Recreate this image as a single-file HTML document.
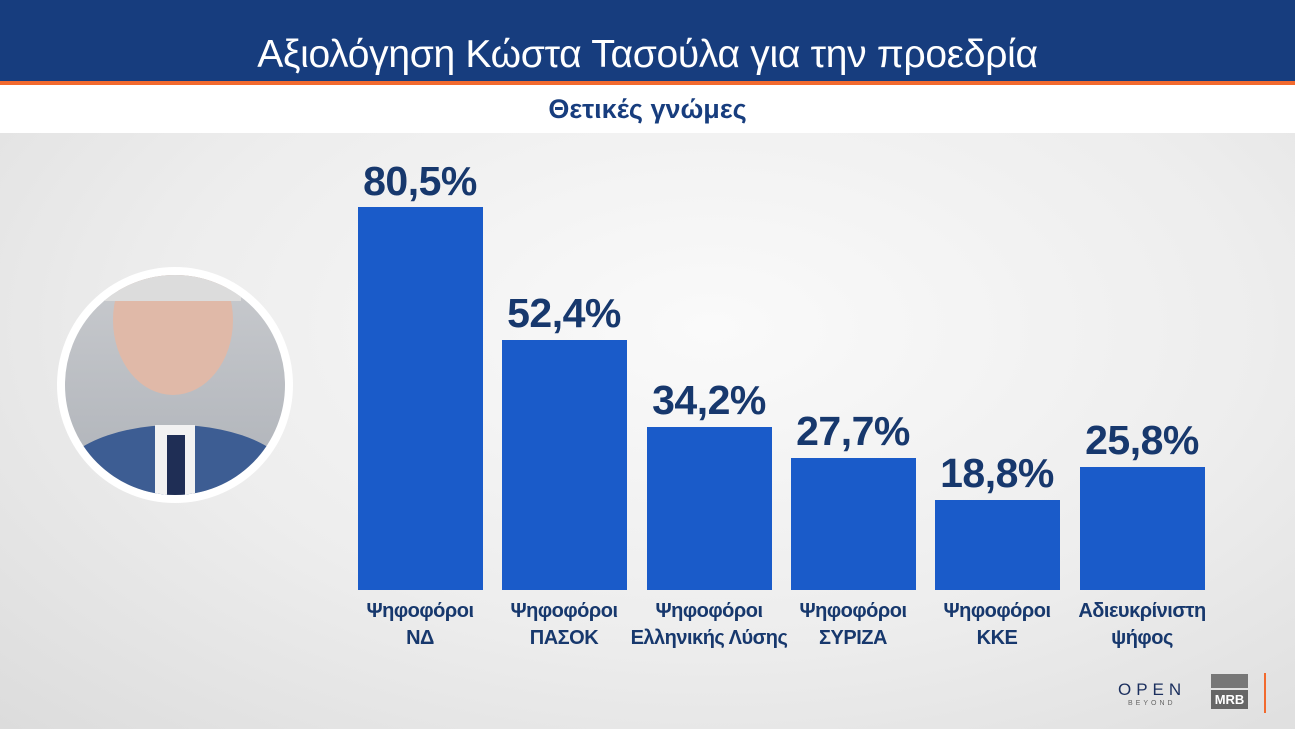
<!DOCTYPE html>
<html><head><meta charset="utf-8"><style>
body{margin:0;width:1295px;height:729px;overflow:hidden;font-family:"Liberation Sans","DejaVu Sans",sans-serif;position:relative;background:radial-gradient(ellipse at 55% 45%,#fafafa 0%,#ededed 55%,#dcdcdc 100%)}
.hdr{position:absolute;left:0;top:0;width:1295px;height:81px;background:#173d7e}
.hdr div{position:absolute;left:0;right:0;top:33px;text-align:center;color:#fff;font-size:39px;letter-spacing:-0.3px}
.or{position:absolute;left:0;top:81px;width:1295px;height:4px;background:#f26a2e}
.wb{position:absolute;left:0;top:85px;width:1295px;height:48px;background:#fff;text-align:center;color:#173d7e;font-weight:bold;font-size:27px;line-height:48px}
.bar{position:absolute;width:125px;background:#1a5bc9;bottom:139px}
.v{position:absolute;width:160px;text-align:center;color:#17386d;font-weight:bold;font-size:41px;letter-spacing:-0.5px}
.c{position:absolute;top:598px;width:180px;text-align:center;color:#17386d;font-weight:bold;font-size:20px;line-height:27px;letter-spacing:-0.5px}
.circ{position:absolute;left:57px;top:267px;width:220px;height:220px;border-radius:50%;border:8px solid #fff;background:linear-gradient(#c8cace,#aeb2b8);overflow:hidden}
</style></head><body>
<div class="hdr"><div>Αξιολόγηση Κώστα Τασούλα για την προεδρία</div></div>
<div class="or"></div>
<div class="wb">Θετικές γνώμες</div>
<div class="circ">
<div style="position:absolute;left:48px;top:-30px;width:120px;height:150px;border-radius:50%;background:#e0b9a8"></div>
<div style="position:absolute;left:40px;top:-34px;width:136px;height:60px;border-radius:50% 50% 0 0;background:#dcdcdc"></div>
<div style="position:absolute;left:-10px;top:150px;width:240px;height:120px;border-radius:50% 50% 0 0;background:#3d5d93"></div>
<div style="position:absolute;left:90px;top:150px;width:40px;height:90px;background:#f2f2f2"></div>
<div style="position:absolute;left:102px;top:160px;width:18px;height:80px;background:#1f2e55"></div>
</div>
<div class="bar" style="left:358px;height:383px"></div>
<div class="bar" style="left:502px;height:250px"></div>
<div class="bar" style="left:647px;height:163px"></div>
<div class="bar" style="left:791px;height:132px"></div>
<div class="bar" style="left:935px;height:90px"></div>
<div class="bar" style="left:1080px;height:123px"></div>
<div class="v" style="left:340px;top:158px">80,5%</div>
<div class="v" style="left:484px;top:290px">52,4%</div>
<div class="v" style="left:629px;top:377px">34,2%</div>
<div class="v" style="left:773px;top:408px">27,7%</div>
<div class="v" style="left:917px;top:450px">18,8%</div>
<div class="v" style="left:1062px;top:417px">25,8%</div>
<div class="c" style="left:330px">Ψηφοφόροι<br>ΝΔ</div>
<div class="c" style="left:474px">Ψηφοφόροι<br>ΠΑΣΟΚ</div>
<div class="c" style="left:619px">Ψηφοφόροι<br>Ελληνικής Λύσης</div>
<div class="c" style="left:763px">Ψηφοφόροι<br>ΣΥΡΙΖΑ</div>
<div class="c" style="left:907px">Ψηφοφόροι<br>ΚΚΕ</div>
<div class="c" style="left:1052px">Αδιευκρίνιστη<br>ψήφος</div>
<div style="position:absolute;left:1118px;top:680px;color:#1b2f5e;font-size:17px;letter-spacing:5px">OPEN</div>
<div style="position:absolute;left:1128px;top:700px;color:#666;font-size:7px;letter-spacing:3px">BEYOND</div>
<div style="position:absolute;left:1211px;top:674px;width:37px;height:14px;background:#777"></div>
<div style="position:absolute;left:1211px;top:690px;width:37px;height:19px;background:#666;color:#fff;font-weight:bold;font-size:13px;text-align:center;line-height:19px">MRB</div>
<div style="position:absolute;left:1264px;top:673px;width:2px;height:40px;background:#f26a2e"></div>
</body></html>
